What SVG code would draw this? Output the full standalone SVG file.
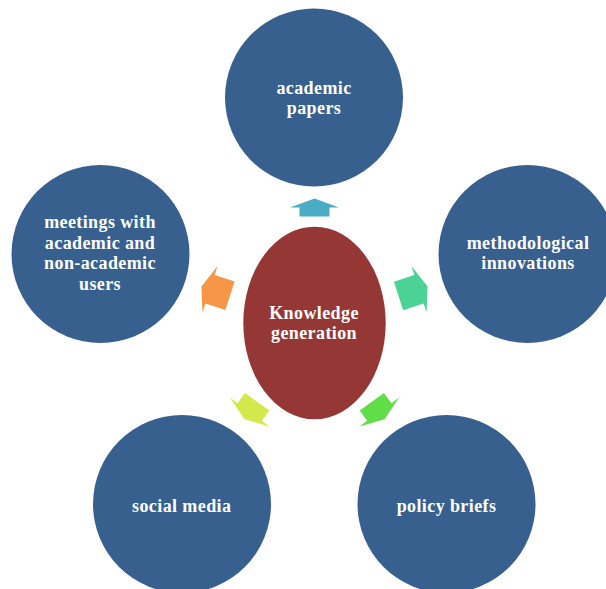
<svg xmlns="http://www.w3.org/2000/svg" width="606" height="589" viewBox="0 0 606 589">
<defs>
<style>
.sat{fill:#37608f}
.core{fill:#953735}
.t{font-family:"Liberation Serif","Times New Roman",serif;font-weight:bold;font-size:18px;letter-spacing:0.4px;fill:#ffffff;text-anchor:middle}
</style>
</defs>
<rect width="606" height="589" fill="#ffffff"/>
<g id="connectors">
<polygon transform="translate(314.5,207.5)" fill="#4bacc6" points="0,-9 24.5,0 15,0 15,9 -15,9 -15,0 -24.5,0"/>
<polygon transform="translate(210,289.3) rotate(-72)" fill="#f79646" points="0,-9 24.5,0 15,0 15,21 -15,21 -15,0 -24.5,0"/>
<polygon transform="translate(419,289.3) rotate(72)" fill="#4ad394" points="0,-9 24.5,0 15,0 15,21.5 -15,21.5 -15,0 -24.5,0"/>
<polygon transform="translate(249.7,412) rotate(-144)" fill="#d3e84a" points="0,-9 24.5,0 15,0 15,12.7 -15,12.7 -15,0 -24.5,0"/>
<polygon transform="translate(379.3,412) rotate(144)" fill="#60de48" points="0,-9 24.5,0 15,0 15,12.7 -15,12.7 -15,0 -24.5,0"/>
</g>
<g id="knowledge-generation">
<ellipse class="core" cx="314.5" cy="323" rx="71.2" ry="96.3"/>
<text class="t" x="314" y="319">Knowledge</text>
<text class="t" x="314" y="339">generation</text>
</g>
<g id="academic-papers">
<circle class="sat" cx="314" cy="97.5" r="89"/>
<text class="t" x="314" y="94.3">academic</text>
<text class="t" x="314" y="114.3">papers</text>
</g>
<g id="meetings">
<circle class="sat" cx="100.5" cy="254" r="89"/>
<text class="t" x="100" y="228.3">meetings with</text>
<text class="t" x="100" y="248.8">academic and</text>
<text class="t" x="100" y="269.3">non-academic</text>
<text class="t" x="100" y="289.8">users</text>
</g>
<g id="methodological-innovations">
<circle class="sat" cx="527.5" cy="254" r="89"/>
<text class="t" x="528" y="249">methodological</text>
<text class="t" x="528" y="268.5">innovations</text>
</g>
<g id="social-media">
<circle class="sat" cx="182" cy="504" r="89"/>
<text class="t" x="181.7" y="511.7">social media</text>
</g>
<g id="policy-briefs">
<circle class="sat" cx="446.5" cy="504" r="89"/>
<text class="t" x="446.5" y="511.7">policy briefs</text>
</g>
</svg>
